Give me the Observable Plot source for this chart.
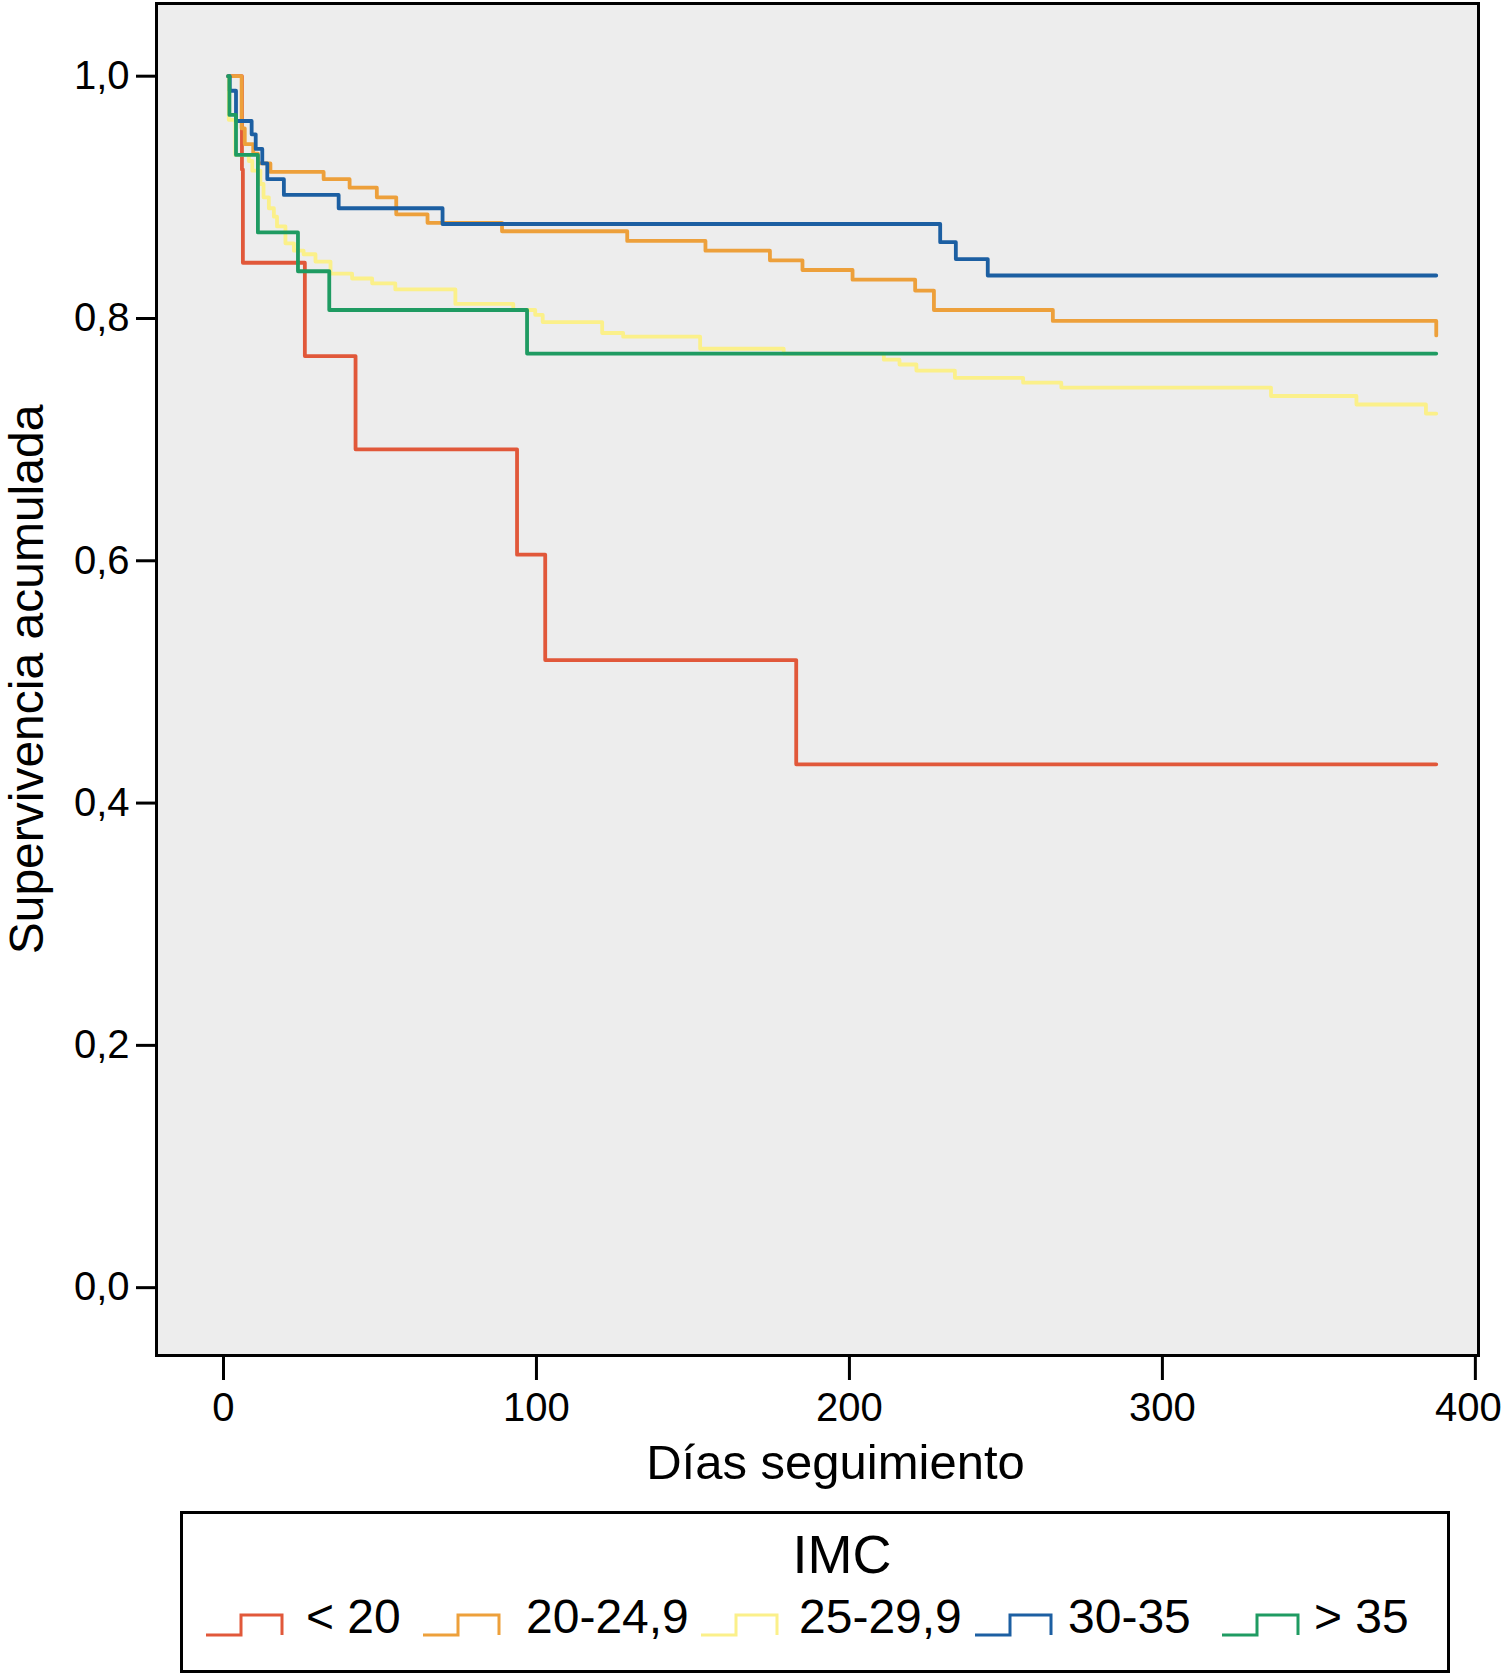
<!DOCTYPE html>
<html>
<head>
<meta charset="utf-8">
<script src="https://cdn.jsdelivr.net/npm/d3@7"></script>
<script src="https://cdn.jsdelivr.net/npm/@observablehq/plot@0.6"></script>
<style>
  body { margin: 0; background: white; }
  #chart svg { display: block; }
</style>
</head>
<body>
<div id="chart"></div>
<script>
// grupos de IMC y sus colores
const grupos = ["< 20", "20-24,9", "25-29,9", "30-35", "> 35"];
const colores = ["#e1583a", "#eda03b", "#fbf08a", "#1c5fa2", "#1f9b62"];

// curvas de Kaplan-Meier (dias, supervivencia)
const diasMenor20 = [1.5, 5.9, 6.2, 26, 42.2, 93.8, 102.8, 183, 387.5];
const survMenor20 = [1, 0.923, 0.846, 0.769, 0.692, 0.605, 0.518, 0.432, 0.432];

const dias20a25 = [1.5, 5.8, 6.8, 9.5, 11, 15, 32, 40.3, 49, 55.2, 65.2, 89, 129, 154, 174.6, 185, 201, 221, 227, 265, 387.5];
const surv20a25 = [1, 0.957, 0.944, 0.936, 0.928, 0.921, 0.915, 0.908, 0.900, 0.886, 0.879, 0.872, 0.864, 0.856, 0.848, 0.840, 0.832, 0.823, 0.807, 0.798, 0.786];

const dias25a30 = [1.5, 1.7, 3.8, 8.1, 9.2, 11.8, 12.8, 14.5, 16.1, 17.1, 19.8, 22.5, 25.6, 29.4, 34.2, 41.1, 47.5, 54.9, 74.1, 92.6, 99.6, 102, 121, 127.7, 152.3, 179, 211, 216, 221.4, 233.7, 255.5, 267.7, 334.7, 362, 384.2, 387.5];
const surv25a30 = [1, 0.964, 0.935, 0.930, 0.922, 0.911, 0.900, 0.891, 0.884, 0.876, 0.862, 0.856, 0.853, 0.847, 0.837, 0.833, 0.829, 0.824, 0.812, 0.807, 0.803, 0.797, 0.788, 0.785, 0.775, 0.771, 0.766, 0.762, 0.757, 0.751, 0.747, 0.743, 0.736, 0.729, 0.7215, 0.7215];

const dias30a35 = [1.5, 2, 4, 9, 10.3, 12.4, 14, 19.3, 36.8, 70, 229, 234, 244.2, 387.5];
const surv30a35 = [1, 0.988, 0.963, 0.952, 0.940, 0.928, 0.915, 0.902, 0.891, 0.878, 0.863, 0.849, 0.8355, 0.8355];

const diasMayor35 = [1.5, 1.9, 4, 11, 23.8, 33.8, 97, 387.5];
const survMayor35 = [1, 0.968, 0.935, 0.871, 0.839, 0.807, 0.771, 0.771];

const ticksX = [0, 100, 200, 300];
const ticksXFinal = [400];
const ticksY = [0, 0.2, 0.4, 0.6, 0.8, 1.0];

const series = [
  [diasMenor20, survMenor20],
  [dias20a25, surv20a25],
  [dias25a30, surv25a30],
  [dias30a35, surv30a35],
  [diasMayor35, survMayor35]
];
const datos = grupos.flatMap((g, i) =>
  series[i][0].map((d, j) => ({grupo: g, dias: d, surv: series[i][1][j]})));

const fuente = "'Liberation Sans', Arial, Helvetica, sans-serif";
const coma = d => d.toFixed(1).replace(".", ",");

let chart = Plot.plot({
  width: 1506,
  height: 1500,
  marginLeft: 156,
  marginRight: 28,
  marginTop: 3,
  marginBottom: 145,
  style: {fontFamily: fuente, fontSize: "40px", color: "black", background: "white"},
  x: {domain: [-21.4, 401]},
  y: {domain: [-0.056, 1.06]},
  color: {domain: grupos, range: colores},
  marks: [
    Plot.frame({fill: "#ededed", stroke: null}),
    Plot.axisY({ticks: ticksY, tickFormat: coma, tickSize: 20, tickPadding: 7, strokeWidth: 3, fontSize: 40, label: null}),
    Plot.axisX({ticks: ticksX, tickSize: 25, tickPadding: 12, strokeWidth: 3, fontSize: 40, label: null}),
    // la etiqueta 400 va un poco a la izquierda para no salirse
    Plot.axisX({ticks: ticksXFinal, tickSize: 25, tickPadding: 12, strokeWidth: 3, fontSize: 40, label: null, text: null}),
    Plot.axisX({ticks: ticksXFinal, tickSize: 0, tickPadding: 37, fontSize: 40, label: null, dx: -7}),
    Plot.line(datos, {x: "dias", y: "surv", z: "grupo", stroke: "grupo", curve: "step-after", strokeWidth: 3.8}),
    Plot.frame({stroke: "black", strokeWidth: 3}),
    Plot.text(["Supervivencia acumulada"], {text: d => d, frameAnchor: "left", rotate: -90, dx: -129, textAnchor: "middle", lineAnchor: "middle", fontSize: 48}),
    Plot.text(["Días seguimiento"], {text: d => d, frameAnchor: "bottom", dx: 18, dy: 108, textAnchor: "middle", lineAnchor: "middle", fontSize: 49})
  ]
})

d3.select('#chart').append(() => chart)

// leyenda debajo del grafico
const leyenda = d3.create("svg")
  .attr("width", 1506)
  .attr("height", 176)
  .style("display", "block")
  .style("font-family", fuente)

leyenda.append("rect")
  .attr("x", 181.5).attr("y", 12.5)
  .attr("width", 1267).attr("height", 159)
  .attr("fill", "white").attr("stroke", "black").attr("stroke-width", 3)

leyenda.append("text")
  .attr("x", 842).attr("y", 73)
  .attr("text-anchor", "middle")
  .attr("font-size", 54)
  .text("IMC")

const simboloX = [206, 423, 701, 975, 1222];
const textoX = [306, 526, 799, 1068, 1314];
grupos.forEach((g, i) => {
  const x0 = simboloX[i];
  leyenda.append("path")
    .attr("d", `M${x0},135H${x0 + 35}V115H${x0 + 76}V135`)
    .attr("fill", "none")
    .attr("stroke", colores[i])
    .attr("stroke-width", 3)
  leyenda.append("text")
    .attr("x", textoX[i]).attr("y", 133)
    .attr("font-size", 48)
    .text(g)
})

d3.select('#chart').append(() => leyenda.node())
</script>
</body>
</html>
